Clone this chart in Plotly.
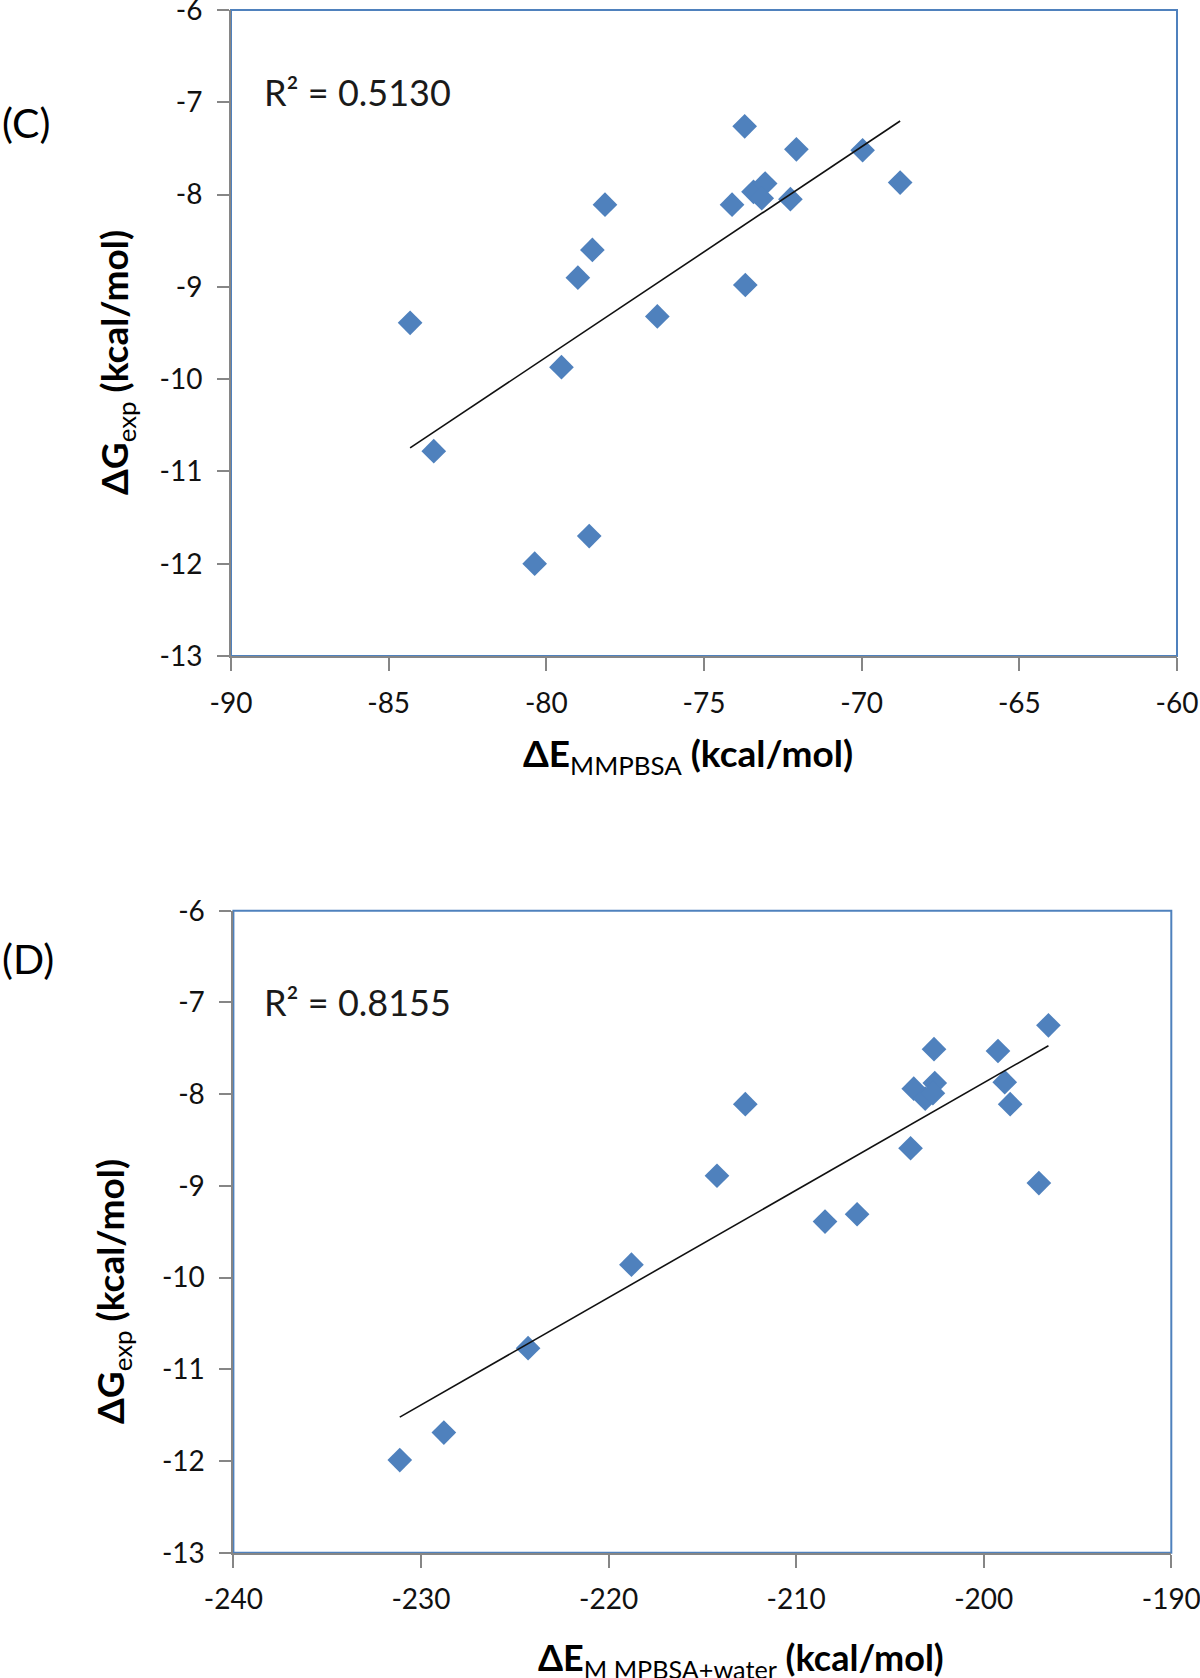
import numpy as np
import plotly.graph_objects as go

# ---- Data ----
# Panel (C): ΔE_MMPBSA vs ΔG_exp
x_c = [-84.32, -83.57, -80.37, -79.52, -79.00, -78.64, -78.54, -78.14, -76.48,
       -74.11, -73.71, -73.69, -73.43, -73.06, -73.17, -72.26, -72.07, -69.97, -68.78]
y_c = [-9.39, -10.78, -12.00, -9.87, -8.90, -11.70, -8.60, -8.11, -9.32,
       -8.11, -7.26, -8.98, -7.97, -7.88, -8.04, -8.05, -7.51, -7.52, -7.87]
r2_c = "R² = 0.5130"

# Panel (D): ΔE_MMPBSA+water vs ΔG_exp
x_d = [-231.13, -228.78, -224.29, -218.78, -214.22, -212.71, -208.46, -206.75, -203.90,
       -203.73, -203.12, -202.61, -202.65, -199.24, -198.88, -198.59, -197.06, -196.55, -202.71]
y_d = [-11.99, -11.69, -10.77, -9.86, -8.89, -8.11, -9.39, -9.31, -8.59,
       -7.94, -8.05, -7.88, -7.51, -7.53, -7.87, -8.11, -8.97, -7.25, -7.99]
r2_d = "R² = 0.8155"

# Tick values / labels
y_ticks = [-13, -12, -11, -10, -9, -8, -7, -6]
y_ticklabels = ["-13", "-12", "-11", "-10", "-9", "-8", "-7", "-6"]
xc_ticks = [-90, -85, -80, -75, -70, -65, -60]
xc_ticklabels = ["-90", "-85", "-80", "-75", "-70", "-65", "-60"]
xd_ticks = [-240, -230, -220, -210, -200, -190]
xd_ticklabels = ["-240", "-230", "-220", "-210", "-200", "-190"]

W, H = 1200, 1678
FONT = "Lato"
BLUE = "#4f81bd"
GRAY = "#868686"


def px(x):
    return x / W


def py(y):
    return 1 - y / H


fig = go.Figure()

# markers
fig.add_trace(go.Scatter(x=x_c, y=y_c, mode="markers", xaxis="x", yaxis="y",
                         marker=dict(symbol="diamond", size=19, color=BLUE,
                                     line=dict(width=0)), showlegend=False))
fig.add_trace(go.Scatter(x=x_d, y=y_d, mode="markers", xaxis="x2", yaxis="y2",
                         marker=dict(symbol="diamond", size=19, color=BLUE,
                                     line=dict(width=0)), showlegend=False))

# linear trendlines fitted from the data
for xs, ys, xa, ya in [(x_c, y_c, "x", "y"), (x_d, y_d, "x2", "y2")]:
    k, b = np.polyfit(xs, ys, 1)
    xl = np.array([min(xs), max(xs)])
    fig.add_trace(go.Scatter(x=xl, y=k * xl + b, mode="lines", xaxis=xa, yaxis=ya,
                             line=dict(color="#111111", width=1.6), showlegend=False,
                             hoverinfo="skip"))

axis_common = dict(showline=True, linecolor=GRAY, linewidth=2, ticks="outside",
                   tickcolor=GRAY, tickwidth=2, showgrid=False, zeroline=False,
                   automargin=False, ticklabeloverflow="allow",
                   tickfont=dict(family=FONT, size=28, color="#111111"))

fig.update_layout(
    width=W, height=H, autosize=False,
    margin=dict(l=0, r=0, t=0, b=0, pad=0, autoexpand=False),
    paper_bgcolor="white", plot_bgcolor="white",
    xaxis=dict(domain=[px(231), px(1177)], range=[-90, -60], tickvals=xc_ticks,
               ticktext=xc_ticklabels, anchor="y", ticklen=13, ticklabelstandoff=8,
               **axis_common),
    yaxis=dict(domain=[py(656), py(10)], range=[-13, -6], tickvals=y_ticks,
               ticktext=y_ticklabels, anchor="x", ticklen=12, ticklabelstandoff=9,
               **axis_common),
    xaxis2=dict(domain=[px(233.4), px(1171.3)], range=[-240, -190], tickvals=xd_ticks,
                ticktext=xd_ticklabels, anchor="y2", ticklen=13, ticklabelstandoff=8,
                **axis_common),
    yaxis2=dict(domain=[py(1552.7), py(910.7)], range=[-13, -6], tickvals=y_ticks,
                ticktext=y_ticklabels, anchor="x2", ticklen=12, ticklabelstandoff=9,
                **axis_common),
)

# plot-area borders (blue top/right)
for xr, yr in [("x domain", "y domain"), ("x2 domain", "y2 domain")]:
    fig.add_shape(type="rect", xref=xr, yref=yr, x0=0, x1=1, y0=0, y1=1,
                  line=dict(color=BLUE, width=2), layer="below")

title_font = dict(family=FONT, size=37, color="#000000")
ann = []
# panel labels
ann.append(dict(text="(C)", x=px(0), y=py(122), xanchor="left", yanchor="middle",
                font=dict(family=FONT, size=41, color="#000000")))
ann.append(dict(text="(D)", x=px(0), y=py(958), xanchor="left", yanchor="middle",
                font=dict(family=FONT, size=41, color="#000000")))
# R² labels
ann.append(dict(text=r2_c, x=px(262), y=py(92), xanchor="left", yanchor="middle",
                font=dict(family=FONT, size=36, color="#1a1a1a")))
ann.append(dict(text=r2_d, x=px(262), y=py(1002), xanchor="left", yanchor="middle",
                font=dict(family=FONT, size=36, color="#1a1a1a")))
# axis titles
ytitle = "<b>ΔG</b><sub>exp</sub><b> (kcal/mol)</b>"
ann.append(dict(text=ytitle, x=px(116), y=py(363), xanchor="center", yanchor="middle",
                textangle=-90, font=title_font))
ann.append(dict(text=ytitle, x=px(112), y=py(1292), xanchor="center", yanchor="middle",
                textangle=-90, font=title_font))
ann.append(dict(text="<b>ΔE</b><sub>MMPBSA</sub><b> (kcal/mol)</b>", x=px(688), y=py(755),
                xanchor="center", yanchor="middle", font=title_font))
ann.append(dict(text="<b>ΔE</b><sub>M MPBSA+water</sub><b> (kcal/mol)</b>", x=px(741), y=py(1659),
                xanchor="center", yanchor="middle", font=dict(family=FONT, size=36, color="#000000")))

for a in ann:
    a.update(xref="paper", yref="paper", showarrow=False)
fig.update_layout(annotations=ann)

fig.write_html("out.html", config={"displayModeBar": False},
               post_script="document.body.style.margin='0';document.body.style.overflow='hidden';")
